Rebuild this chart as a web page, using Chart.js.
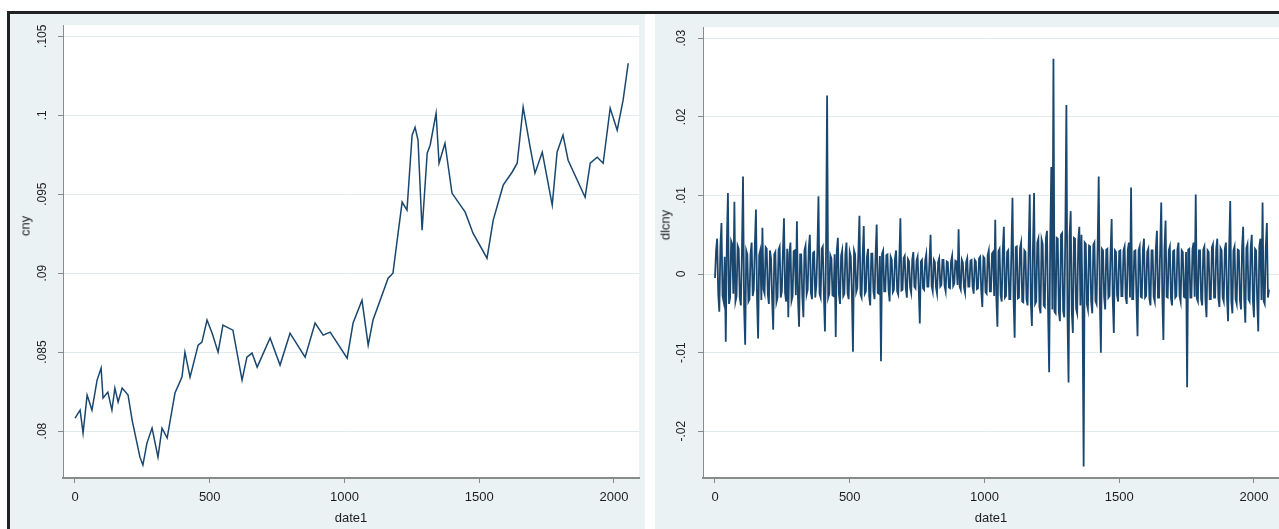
<!DOCTYPE html>
<html>
<head>
<meta charset="utf-8">
<script src="https://cdn.jsdelivr.net/npm/chart.js@4.4.1/dist/chart.umd.min.js"></script>
<style>
  html, body { margin: 0; padding: 0; width: 1279px; height: 529px; overflow: hidden; background: #fff;
    font-family: "Liberation Sans", Arial, sans-serif; }
  #frame { position: absolute; left: 7px; top: 11px; width: 1290px; height: 530px;
    border-left: 3px solid #222; border-top: 3px solid #222; }
  .panel { position: absolute; top: 14px; height: 515px; background: #eaf2f3; }
  #p1 { left: 10px; width: 635px; }
  #p2 { left: 655px; width: 630px; }
  .ytitle { position: absolute; font-size: 13px; color: #1e1e1e; white-space: nowrap;
    transform: translate(-50%, -50%) rotate(-90deg); }
</style>
</head>
<body>
<div id="frame"></div>
<div class="panel" id="p1"><canvas id="c1" width="635" height="515"></canvas></div>
<div class="panel" id="p2"><canvas id="c2" width="630" height="515"></canvas></div>
<div class="ytitle" style="left:25px; top:226px;">cny</div>
<div class="ytitle" style="left:665px; top:225px;">dlcny</div>
<script>
// x axis (date1)
const dateTicks = [0, 500, 1000, 1500, 2000];

// left panel: cny level
const cnyDates = [0, 19, 30, 45, 63, 82, 97, 104, 122, 137, 148, 160, 175, 197, 212, 241, 252, 267, 286, 308,
  323, 342, 371, 397, 408, 427, 457, 471, 490, 509, 531, 549, 586, 620, 638, 657, 676, 724, 761, 798,
  854, 891, 921, 947, 1010, 1032, 1065, 1088, 1106, 1162, 1180, 1199, 1214, 1232, 1251, 1262, 1273, 1288, 1307, 1318,
  1340, 1351, 1373, 1399, 1448, 1477, 1529, 1552, 1589, 1622, 1641, 1663, 1689, 1707, 1734, 1771, 1789, 1811, 1830, 1893,
  1912, 1938, 1960, 1986, 2012, 2034, 2053];
const cnyValues = [0.08082, 0.08133, 0.07987, 0.08228, 0.08133, 0.08323, 0.08399, 0.08209, 0.08247, 0.08133,
  0.08272, 0.08184, 0.08272, 0.08228, 0.0807, 0.07835, 0.07785, 0.07924, 0.08019, 0.07835,
  0.08019, 0.07956, 0.08241, 0.08342, 0.085, 0.08342, 0.08544, 0.08563, 0.08703, 0.0862,
  0.085, 0.08671, 0.08639, 0.08323, 0.08468, 0.08494, 0.08405, 0.08589, 0.08418, 0.0862,
  0.08468, 0.08684, 0.08608, 0.08627, 0.08462, 0.08684, 0.08829, 0.08544, 0.08703, 0.08968,
  0.09, 0.09253, 0.0945, 0.09399, 0.09874, 0.09924, 0.09842, 0.09272, 0.0976, 0.0981,
  0.10013, 0.09696, 0.09823, 0.09507, 0.09386, 0.09253, 0.09095, 0.09336, 0.09557, 0.09639,
  0.09696, 0.10051, 0.09798, 0.09633, 0.09766, 0.09431, 0.09766, 0.09874, 0.09715, 0.09481,
  0.09696, 0.09734, 0.09696, 0.10045, 0.09905, 0.10095, 0.10329];
const cnyTicks = [0.08, 0.085, 0.09, 0.095, 0.1, 0.105];
const cnyTickLabels = ['.08', '.085', '.09', '.095', '.1', '.105'];

// right panel: dlcny (first difference), every 4th observation
const dlDates = [
  0, 4, 8, 12, 16, 20, 24, 28, 32, 36, 40, 44, 48, 52, 56, 60, 64, 68, 72, 76,
  80, 84, 88, 92, 96, 100, 104, 108, 112, 116, 120, 124, 128, 132, 136, 140, 144, 148, 152, 156,
  160, 164, 168, 172, 176, 180, 184, 188, 192, 196, 200, 204, 208, 212, 216, 220, 224, 228, 232, 236,
  240, 244, 248, 252, 256, 260, 264, 268, 272, 276, 280, 284, 288, 292, 296, 300, 304, 308, 312, 316,
  320, 324, 328, 332, 336, 340, 344, 348, 352, 356, 360, 364, 368, 372, 376, 380, 384, 388, 392, 396,
  400, 404, 408, 412, 416, 420, 424, 428, 432, 436, 440, 444, 448, 452, 456, 460, 464, 468, 472, 476,
  480, 484, 488, 492, 496, 500, 504, 508, 512, 516, 520, 524, 528, 532, 536, 540, 544, 548, 552, 556,
  560, 564, 568, 572, 576, 580, 584, 588, 592, 596, 600, 604, 608, 612, 616, 620, 624, 628, 632, 636,
  640, 644, 648, 652, 656, 660, 664, 668, 672, 676, 680, 684, 688, 692, 696, 700, 704, 708, 712, 716,
  720, 724, 728, 732, 736, 740, 744, 748, 752, 756, 760, 764, 768, 772, 776, 780, 784, 788, 792, 796,
  800, 804, 808, 812, 816, 820, 824, 828, 832, 836, 840, 844, 848, 852, 856, 860, 864, 868, 872, 876,
  880, 884, 888, 892, 896, 900, 904, 908, 912, 916, 920, 924, 928, 932, 936, 940, 944, 948, 952, 956,
  960, 964, 968, 972, 976, 980, 984, 988, 992, 996, 1000, 1004, 1008, 1012, 1016, 1020, 1024, 1028, 1032, 1036,
  1040, 1044, 1048, 1052, 1056, 1060, 1064, 1068, 1072, 1076, 1080, 1084, 1088, 1092, 1096, 1100, 1104, 1108, 1112, 1116,
  1120, 1124, 1128, 1132, 1136, 1140, 1144, 1148, 1152, 1156, 1160, 1164, 1168, 1172, 1176, 1180, 1184, 1188, 1192, 1196,
  1200, 1204, 1208, 1212, 1216, 1220, 1224, 1228, 1232, 1236, 1240, 1244, 1248, 1252, 1256, 1260, 1264, 1268, 1272, 1276,
  1280, 1284, 1288, 1292, 1296, 1300, 1304, 1308, 1312, 1316, 1320, 1324, 1328, 1332, 1336, 1340, 1344, 1348, 1352, 1356,
  1360, 1364, 1368, 1372, 1376, 1380, 1384, 1388, 1392, 1396, 1400, 1404, 1408, 1412, 1416, 1420, 1424, 1428, 1432, 1436,
  1440, 1444, 1448, 1452, 1456, 1460, 1464, 1468, 1472, 1476, 1480, 1484, 1488, 1492, 1496, 1500, 1504, 1508, 1512, 1516,
  1520, 1524, 1528, 1532, 1536, 1540, 1544, 1548, 1552, 1556, 1560, 1564, 1568, 1572, 1576, 1580, 1584, 1588, 1592, 1596,
  1600, 1604, 1608, 1612, 1616, 1620, 1624, 1628, 1632, 1636, 1640, 1644, 1648, 1652, 1656, 1660, 1664, 1668, 1672, 1676,
  1680, 1684, 1688, 1692, 1696, 1700, 1704, 1708, 1712, 1716, 1720, 1724, 1728, 1732, 1736, 1740, 1744, 1748, 1752, 1756,
  1760, 1764, 1768, 1772, 1776, 1780, 1784, 1788, 1792, 1796, 1800, 1804, 1808, 1812, 1816, 1820, 1824, 1828, 1832, 1836,
  1840, 1844, 1848, 1852, 1856, 1860, 1864, 1868, 1872, 1876, 1880, 1884, 1888, 1892, 1896, 1900, 1904, 1908, 1912, 1916,
  1920, 1924, 1928, 1932, 1936, 1940, 1944, 1948, 1952, 1956, 1960, 1964, 1968, 1972, 1976, 1980, 1984, 1988, 1992, 1996,
  2000, 2004, 2008, 2012, 2016, 2020, 2024, 2028, 2032, 2036, 2040, 2044, 2048, 2052, 2056];
const dlValues = [
  -0.0005, 0.003, 0.0045, -0.0025, -0.0048, 0.0035, 0.0065, -0.0028, -0.0035, 0.0022,
  -0.0086, 0.004, 0.0103, -0.0038, -0.003, 0.0042, 0.0038, -0.0025, 0.0092, -0.0035,
  -0.0028, 0.0036, 0.0032, -0.003, -0.004, 0.0028, 0.0124, -0.0042, -0.009, 0.003,
  0.0025, -0.0035, -0.0032, 0.0026, 0.004, -0.0028, -0.002, 0.0038, 0.0082, -0.0032,
  -0.0082, 0.0024, 0.003, -0.0033, 0.0059, -0.002, -0.0025, 0.0034, 0.0032, -0.0026,
  -0.0038, 0.003, 0.002, -0.0032, -0.0071, 0.0025, 0.0028, -0.0036, -0.003, 0.0031,
  0.0035, -0.003, -0.0022, 0.0028, 0.0071, -0.0024, -0.0035, 0.0032, -0.0055, 0.0026,
  0.004, -0.0034, -0.0028, 0.0029, 0.003, -0.0027, 0.0067, -0.0031, -0.0067, 0.0025,
  0.0025, -0.0028, -0.0055, 0.003, 0.0036, -0.0026, -0.002, 0.0033, 0.005, -0.0024,
  -0.0032, 0.0027, 0.0028, -0.003, -0.0015, 0.0029, 0.0099, -0.0025, -0.003, 0.0032,
  0.0035, -0.0026, -0.0073, 0.0028, 0.0227, -0.003, -0.0025, 0.0024, 0.002, -0.0027,
  -0.0028, 0.0025, -0.008, 0.003, 0.0046, -0.0026, -0.0038, 0.0023, 0.003, -0.0028,
  -0.0025, 0.0026, 0.004, -0.0024, -0.0032, 0.0028, 0.0022, -0.0025, -0.0099, 0.003,
  0.0025, -0.0023, -0.0018, 0.0027, 0.0074, -0.0026,
  -0.003, 0.0024, 0.0061, -0.0025, -0.0022, 0.0022, 0.0032, -0.0028, -0.004, 0.0026,
  0.0026, -0.0022, -0.0032, 0.0025, 0.0063, -0.0024, -0.0025, 0.0023, -0.0111, 0.0026,
  0.003, -0.0022, -0.0022, 0.0024, 0.0025, -0.002, -0.0035, 0.0022, 0.0018, -0.0023,
  -0.002, 0.002, 0.003, -0.0022, -0.0026, 0.0019, 0.0071, -0.0021, -0.002, 0.002,
  0.0023, -0.0018, -0.003, 0.0019, 0.0016, -0.0017, -0.0024, 0.0018, 0.0028, -0.0016,
  -0.0018, 0.0017, 0.0022, -0.0019, -0.0063, 0.0016, 0.0018, -0.0018, -0.002, 0.0017,
  0.0025, -0.0016, -0.0016, 0.0017, 0.005, -0.0015, -0.0022, 0.0018, 0.0015, -0.0017,
  -0.0025, 0.0015, 0.002, -0.0016, -0.0014, 0.0018, 0.0018, -0.0015, -0.0022, 0.0016,
  0.0015, -0.0017, -0.0018, 0.0016, 0.0023, -0.0015, -0.0012, 0.0017, 0.0016, -0.0014,
  0.0057, -0.0016, -0.002, 0.0018, 0.0014, -0.0017, -0.0024, 0.0015, 0.002, -0.0016,
  -0.0016, 0.0017, 0.0018, -0.0016, -0.0025, 0.0018, 0.0016, -0.0019, -0.0018, 0.002,
  0.0022, -0.0021, -0.0042, 0.0022, 0.002, -0.0023, -0.0025, 0.0024, 0.003, -0.0022,
  -0.0022, 0.0026, 0.0028, -0.0028, 0.0069, -0.003, -0.0067, 0.0029, 0.0032, -0.0027,
  -0.0035, 0.0031, 0.006, -0.003, -0.0028, 0.0028, 0.003, -0.0032, -0.0032, 0.003,
  0.0097, -0.0032, -0.0081, 0.0034, 0.0035, -0.0031, -0.003, 0.0033, 0.004, -0.0035,
  -0.0036, 0.003, 0.0028, -0.0032, -0.004, 0.0034, 0.0101, -0.0036, -0.0066, 0.0035,
  0.0103, -0.0038, -0.0035, 0.004, 0.0045, -0.0042, -0.005, 0.0044, 0.0038, -0.004,
  -0.0042, 0.0045, 0.0055, -0.0046, -0.0125, 0.0042, 0.0136, -0.0045, 0.0274, -0.0048,
  -0.005, 0.0046, 0.0045, -0.0048, -0.006, 0.005, 0.0052, -0.0047, -0.0055, 0.0049,
  0.0215, -0.0052, -0.0138, 0.005, 0.008, -0.0048, -0.0075, 0.0046, 0.0045, -0.0044,
  -0.005, 0.0042, 0.006, -0.004, 0.005, -0.0043, -0.0245, 0.004, 0.0038, -0.0038,
  -0.0045, 0.0036, 0.0035, -0.0035, -0.005, 0.0037, 0.004, -0.0034, -0.0038, 0.0035,
  0.0124, -0.003, -0.01, 0.0032, 0.003, -0.0029, -0.0045, 0.0031, 0.0032, -0.003,
  -0.0028, 0.0028, 0.007, -0.0031, -0.0075, 0.003, 0.0028, -0.0027, -0.0035, 0.0029,
  0.003, -0.0028, -0.0028, 0.003, 0.0035, -0.0029, -0.0038, 0.0031, 0.004, -0.003,
  0.011, -0.0032, -0.0032, 0.0029, 0.003, -0.003,
  -0.0079, 0.003, 0.0035, -0.0029, -0.003, 0.0031, 0.0045, -0.003, -0.0028, 0.0028,
  0.0032, -0.0031, -0.004, 0.003, 0.003, -0.0029, -0.0035, 0.0032, 0.0055, -0.003,
  -0.003, 0.0031, 0.0091, -0.003, -0.0084, 0.0032, 0.0068, -0.0029, -0.003, 0.003,
  0.0035, -0.0031, -0.004, 0.0029, 0.003, -0.003, -0.0028, 0.0031, 0.004, -0.0028,
  -0.0035, 0.003, 0.0028, -0.0029, -0.003, 0.0028, -0.0144, 0.0031, 0.0032, -0.003,
  -0.003, 0.0032, 0.004, -0.0029, 0.0101, -0.0031, -0.0035, 0.003, 0.003, -0.0032,
  -0.004, 0.0031, 0.0035, -0.0033, -0.0055, 0.003, 0.0028, -0.0032, -0.0032, 0.0034,
  0.0038, -0.003, -0.003, 0.0032, 0.0045, -0.0031, -0.0042, 0.0033, 0.003, -0.003,
  -0.0035, 0.0032, 0.004, -0.0031, -0.006, 0.0033, 0.0093, -0.0034, -0.005, 0.003,
  0.0035, -0.0032, -0.0038, 0.0031, 0.003, -0.0033, -0.0045, 0.0034, 0.006, -0.0032,
  -0.0062, 0.0033, 0.0038, -0.0032, -0.0035, 0.0034, 0.005, -0.0033, -0.0055, 0.0032,
  0.003, -0.0034, -0.0073, 0.0035, 0.0045, -0.0033, 0.0091, -0.0034, -0.0038, 0.0035,
  0.0065, -0.003, -0.002];
const dlTicks = [-0.02, -0.01, 0, 0.01, 0.02, 0.03];
const dlTickLabels = ['-.02', '-.01', '0', '.01', '.02', '.03'];

// white plot region on the light blue graph background
const plotBg = {
  id: 'plotBg',
  beforeDraw(chart) {
    const a = chart.chartArea;
    const ctx = chart.ctx;
    ctx.save();
    ctx.fillStyle = '#ffffff';
    ctx.fillRect(a.left, a.top, a.right - a.left, a.bottom - a.top);
    ctx.restore();
  }
};

function makeChart(id, dates, values, yMin, yMax, yTicks, yLabels, yWidth, tickPad, lw) {
  return new Chart(document.getElementById(id), {
    type: 'line',
    data: {
      datasets: [{
        data: dates.map((d, i) => ({ x: d, y: values[i] })),
        borderColor: '#1a476f',
        borderWidth: lw,
        pointRadius: 0,
        tension: 0,
        fill: false
      }]
    },
    options: {
      responsive: false,
      animation: false,
      layout: { padding: { top: 11, right: 6, left: 0, bottom: 0 } },
      plugins: { legend: { display: false }, tooltip: { enabled: false } },
      scales: {
        x: {
          type: 'linear',
          min: -44.5,
          max: 2093,
          afterBuildTicks: s => { s.ticks = dateTicks.map(v => ({ value: v })); },
          afterFit: s => { s.height = 51; },
          grid: { drawOnChartArea: false, drawTicks: true, tickLength: 5, tickColor: '#8a8a8a' },
          border: { display: true, color: '#8a8a8a', width: 2 },
          ticks: { padding: 7, color: '#1e1e1e', font: { size: 13, family: '"Liberation Sans", Arial' },
            maxRotation: 0, minRotation: 0, callback: v => String(v) },
          title: { display: true, text: 'date1', color: '#1e1e1e',
            font: { size: 13, family: '"Liberation Sans", Arial' }, padding: { top: 0, bottom: 3 } }
        },
        y: {
          type: 'linear',
          min: yMin,
          max: yMax,
          afterBuildTicks: s => { s.ticks = yTicks.map(v => ({ value: v })); },
          afterFit: s => { s.width = yWidth; },
          grid: { color: '#e3eaed', drawTicks: true, tickLength: 5, tickColor: '#8a8a8a' },
          border: { display: true, color: '#8a8a8a', width: 1 },
          ticks: { minRotation: 90, maxRotation: 90, crossAlign: 'center', padding: tickPad,
            color: '#1e1e1e', font: { size: 12, family: '"Liberation Sans", Arial' },
            callback: v => yLabels[yTicks.indexOf(v)] }
        }
      }
    },
    plugins: [plotBg]
  });
}

makeChart('c1', cnyDates, cnyValues, 0.07703, 0.1057, cnyTicks, cnyTickLabels, 53, 4, 1.5);
makeChart('c2', dlDates, dlValues, -0.02595, 0.0314, dlTicks, dlTickLabels, 48, 6, 1.8);
</script>
</body>
</html>
